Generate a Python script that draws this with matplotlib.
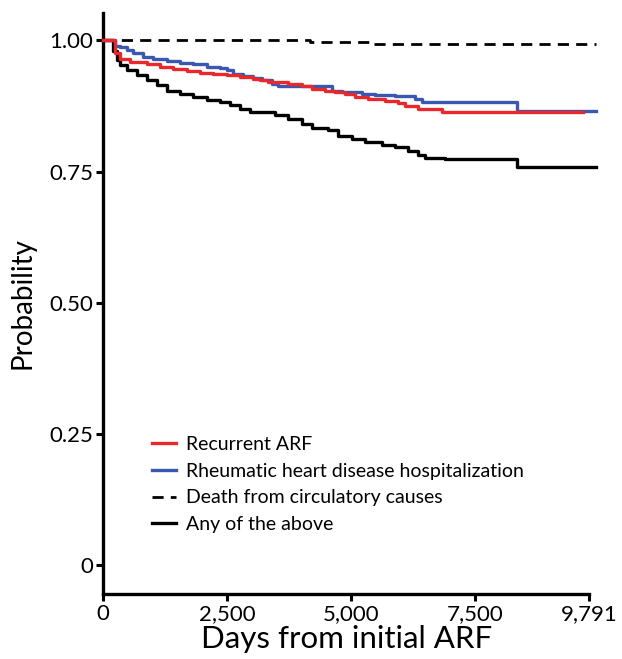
import matplotlib
matplotlib.use("Agg")
import matplotlib.pyplot as plt
from matplotlib.lines import Line2D

plt.rcParams['font.family'] = ['Lato', 'DejaVu Sans']

# ---- data ----
red_t = [0, 230, 337, 538, 875, 1143, 1405, 1681, 1949, 2212, 2488, 2756, 3018, 3159, 3320, 3723, 4005,
         4207, 4469, 4671, 4873, 5074, 5336, 5679, 5941, 6082, 6345, 6828, 9671]
red_p = [1.0, 0.975, 0.964, 0.959, 0.954, 0.949, 0.945, 0.941, 0.937, 0.935, 0.933, 0.930, 0.927, 0.924, 0.920,
         0.917, 0.912, 0.908, 0.904, 0.901, 0.897, 0.892, 0.889, 0.884, 0.880, 0.874, 0.869, 0.864, 0.864]

blue_t = [0, 230, 337, 472, 599, 800, 1002, 1278, 1546, 1808, 2083, 2352, 2488, 2615, 2816, 3018, 3199, 3401,
          3522, 4610, 4813, 5215, 5477, 5880, 6283, 6425, 8340, 9933]
blue_p = [1.0, 0.990, 0.987, 0.981, 0.975, 0.968, 0.964, 0.960, 0.957, 0.954, 0.950, 0.947, 0.944, 0.936, 0.932,
          0.928, 0.924, 0.917, 0.912, 0.904, 0.901, 0.898, 0.895, 0.893, 0.889, 0.882, 0.866, 0.866]

dash_t = [0, 4170, 5380, 9933]
dash_p = [1.0, 0.997, 0.992, 0.992]

black_t = [0, 202, 270, 337, 472, 673, 875, 1077, 1278, 1546, 1808, 2083, 2352, 2554, 2756, 2957, 3461, 3723,
           4005, 4207, 4530, 4732, 5014, 5276, 5619, 5881, 6143, 6345, 6486, 6889, 8340, 9933]
black_p = [1.0, 0.980, 0.962, 0.952, 0.943, 0.933, 0.924, 0.914, 0.904, 0.898, 0.892, 0.887, 0.882, 0.876, 0.870,
           0.863, 0.857, 0.850, 0.841, 0.833, 0.829, 0.818, 0.812, 0.806, 0.801, 0.796, 0.790, 0.782, 0.776,
           0.774, 0.759, 0.759]

x_ticks = [0, 2500, 5000, 7500, 9791]
x_tick_labels = ["0", "2,500", "5,000", "7,500", "9,791"]
y_ticks = [0, 0.25, 0.50, 0.75, 1.00]
y_tick_labels = ["0", "0.25", "0.50", "0.75", "1.00"]

labels = ["Recurrent ARF", "Rheumatic heart disease hospitalization",
          "Death from circulatory causes", "Any of the above"]

RED = "#e8282b"
BLUE = "#3a58b0"

W, H = 622, 659
fig = plt.figure(figsize=(W / 100, H / 100), dpi=100)
ax = fig.add_axes([103.3 / W, 1 - 594 / H, (589 - 103.3) / W, (594 - 13) / H])

lw = 2.4
ax.step(dash_t, dash_p, where="post", color="black", lw=2.0, dashes=(4, 2.6), clip_on=False, zorder=3)
ax.step(black_t, black_p, where="post", color="black", lw=lw, clip_on=False, zorder=4)
ax.step(blue_t, blue_p, where="post", color=BLUE, lw=lw, clip_on=False, zorder=5)
ax.step(red_t, red_p, where="post", color=RED, lw=lw, clip_on=False, zorder=6)

ax.set_xlim(0, 9791)
ax.set_ylim(-0.055, 1.052)
ax.set_xticks(x_ticks)
ax.set_xticklabels(x_tick_labels)
ax.set_yticks(y_ticks)
ax.set_yticklabels(y_tick_labels)

for s in ["top", "right"]:
    ax.spines[s].set_visible(False)
for s in ["left", "bottom"]:
    ax.spines[s].set_linewidth(2.4)
ax.tick_params(axis="both", direction="out", length=5, width=2.2, labelsize=16, pad=2)

ax.set_xlabel("Days from initial ARF", fontsize=22.5, labelpad=1)
ax.set_ylabel("Probability", fontsize=20, labelpad=10)

handles = [
    Line2D([], [], color=RED, lw=lw),
    Line2D([], [], color=BLUE, lw=lw),
    Line2D([], [], color="black", lw=2.0, dashes=(4, 2.6)),
    Line2D([], [], color="black", lw=lw),
]
leg = fig.legend(handles, labels, loc="upper left", bbox_to_anchor=(152 / W, 1 - 436 / H),
                 frameon=False, fontsize=14, handlelength=1.25, handletextpad=0.5,
                 labelspacing=0.5, borderpad=0, borderaxespad=0)

fig.savefig("out.png", dpi=100)
